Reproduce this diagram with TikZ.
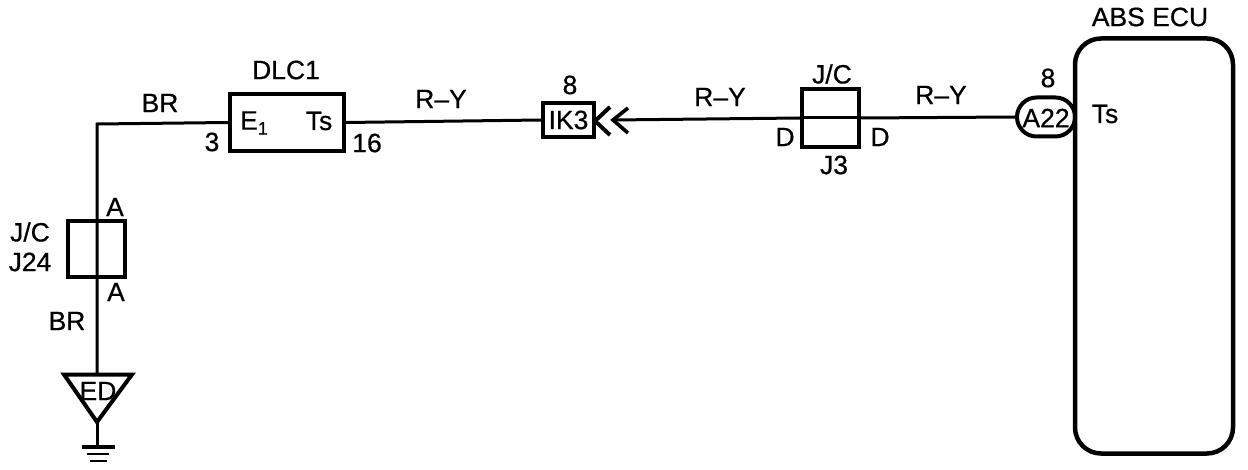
\documentclass[tikz,border=0pt]{standalone}
\usepackage{fontspec}
\setmainfont{Liberation Sans}
\newfontfamily\labfont[FakeBold=0.6]{Liberation Sans}
\usetikzlibrary{shapes.misc}
\begin{document}
\begin{tikzpicture}[x=1pt,y=-1pt,
  lab/.style={inner sep=0pt,font=\fontsize{26.5}{28}\labfont,text=black},
  wire/.style={line width=3pt,black},
  thick box/.style={draw=black,line width=4pt,fill=none},
  boxat/.style={thick box,rectangle,inner sep=0pt,anchor=center},
]
\useasboundingbox[fill=white] (0,0) rectangle (1248,470);
% boxes
\node[boxat,minimum width=57pt,minimum height=56pt] (j24) at (96.5,249) {};
\node[boxat,minimum width=114pt,minimum height=57pt] (dlc) at (287,122.5) {};
\node[boxat,minimum width=51pt,minimum height=34pt] (ik3) at (568.5,120) {};
\node[boxat,minimum width=57pt,minimum height=58pt] (j3) at (830.5,118) {};
\node[thick box,rounded rectangle,minimum width=58pt,minimum height=39pt,inner sep=0pt] (a22) at (1046,117) {};
\node[draw=black,line width=4.5pt,rectangle,rounded corners=26pt,minimum width=158pt,minimum height=415pt,inner sep=0pt] (ecu) at (1154,246) {};
% named points
\coordinate (corner) at (97,124);
\coordinate (tipA) at (595,121);
\coordinate (tipB) at (613,120);
\coordinate (triL) at (64,374.5);
\coordinate (triR) at (132,374.5);
\coordinate (triT) at (97,374.5);
\coordinate (triB) at (97,422);
\coordinate (gnd) at (97,447);
% wires
\draw[wire] (dlc.west) -- (corner) -- (triT);
\draw[wire] (dlc.east) -- (ik3.west);
\draw[wire] (tipB) -- (j3.west);
\draw[wire] (j3.west) -- (j3.east);
\draw[wire] (j3.east) -- (a22.west);
% chevrons
\draw[line width=4pt,black] (610,107) -- (tipA) -- (610,135);
\draw[line width=3.6pt,black] (628,108) -- (tipB) -- (628,133);
% ground symbol
\draw[line width=4pt,black,line join=miter] (triL) -- (triR) -- (triB) -- cycle;
\draw[wire] (triB) -- (gnd);
\draw[line width=3.6pt,black] (82,447) -- (115,447);
\draw[line width=2pt,black] (87,454) -- (109,454);
\draw[line width=2.8pt,black] (90,461) -- (107,461);
% labels
\node[lab] (lBR1) at (160,103) {BR};
\node[lab] (lA1) at (115,207) {A};
\node[lab] (lJC1) at (30,232) {J/C};
\node[lab] (lJ24) at (30,262) {J24};
\node[lab] (lA2) at (116,292) {A};
\node[lab] (lBR2) at (67,321) {BR};
\node[lab] (lED) at (98,391) {ED};
\node[lab] (lDLC) at (286,70) {DLC1};
\node[lab] (l3) at (212,142) {3};
\node[lab] (l16) at (367,143) {16};
\node[lab] (lE) at (254,123) {E\raisebox{-5pt}{\fontsize{18}{20}\selectfont 1}};
\node[lab] (lTs1) at (319,121) {Ts};
\node[lab] (lRY1) at (441,99) {R–Y};
\node[lab] (l8a) at (570,85) {8};
\node[lab] (lIK) at (568.5,120) {IK3};
\node[lab] (lRY2) at (720,97) {R–Y};
\node[lab] (lJC2) at (832,74) {J/C};
\node[lab] (lD1) at (785,137) {D};
\node[lab] (lD2) at (880,137) {D};
\node[lab] (lJ3) at (834,165) {J3};
\node[lab] (lRY3) at (941,95) {R–Y};
\node[lab] (l8b) at (1048,78) {8};
\node[lab] (lA22) at (1046,118) {A22};
\node[lab] (lTs2) at (1105,114) {Ts};
\node[lab] (lECU) at (1150,17) {ABS ECU};
\end{tikzpicture}
\end{document}
